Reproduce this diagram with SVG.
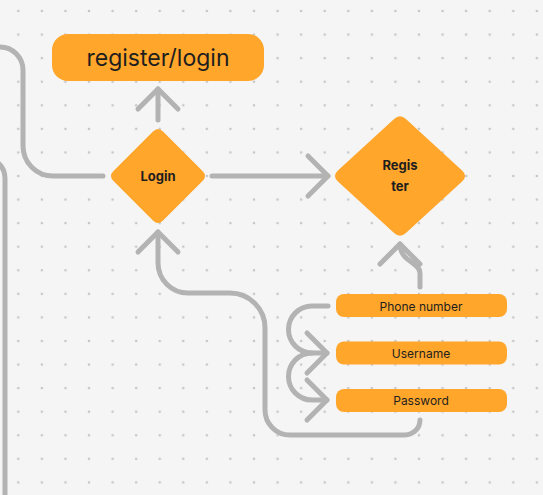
<svg xmlns="http://www.w3.org/2000/svg" width="543" height="495" viewBox="0 0 543 495">
  <defs>
    <pattern id="dots" patternUnits="userSpaceOnUse" x="6.515" y="-0.785" width="23.57" height="23.57">
      <circle cx="11.785" cy="11.785" r="1.3" fill="#c6c6c6"/>
    </pattern>
    <marker id="chev" markerUnits="userSpaceOnUse" markerWidth="30" markerHeight="50" refX="25" refY="25" orient="auto" overflow="visible">
      <path d="M 5 5 L 25 25 L 5 45" fill="none" stroke="#b3b3b3" stroke-width="5" stroke-linecap="round" stroke-linejoin="round"/>
    </marker>
    <style>
      .bg { fill: #f5f5f5; }
      .node { fill: #ffa62b; }
      .edge { fill: none; stroke: #b3b3b3; stroke-width: 5; stroke-linecap: round; stroke-linejoin: round; }
      .arrow { marker-end: url(#chev); }
      .t { font-family: Inter, "Noto Sans", "Liberation Sans", sans-serif; fill: #1e1e1e; text-anchor: middle; }
      .big { font-size: 23px; }
      .bold { font-size: 13px; font-weight: 700; }
      .small { font-size: 12px; }
    </style>
  </defs>
  <rect class="bg" width="543" height="495"/>
  <rect width="543" height="495" fill="url(#dots)"/>

  <g id="connectors">
    <path class="edge" d="M -3 47 H 0 A 23 23 0 0 1 23 70 V 146 A 30 30 0 0 0 53 176 H 103"/>
    <path class="edge" d="M -15 158 A 20 20 0 0 1 5 178 V 500"/>
    <path class="edge arrow" d="M 158 120 V 89"/>
    <path class="edge arrow" d="M 212 176 H 328"/>
    <path class="edge arrow" d="M 420 420 A 15 15 0 0 1 405 435 H 290 A 25 25 0 0 1 265 410 V 328 A 35 35 0 0 0 230 293 H 188 A 30 30 0 0 1 158 263 V 232"/>
    <path class="edge arrow" d="M 420 287 V 273 C 420 262 400 262 400 244"/>
    <path class="edge arrow" d="M 328 306 H 312 A 23.5 23.5 0 0 0 312 353 H 327"/>
    <path class="edge arrow" d="M 312 353 A 23.5 23.5 0 0 0 312 400 H 327"/>
  </g>

  <g id="register-login">
    <rect class="node" x="52" y="34" width="212" height="47" rx="16"/>
    <text class="t big" x="158" y="65.5">register/login</text>
  </g>

  <g id="login">
    <path class="node" d="M 153 131.5 Q 158 126.5 163 131.5 L 202.5 171 Q 207.5 176 202.5 181 L 163 220.5 Q 158 225.5 153 220.5 L 113.5 181 Q 108.5 176 113.5 171 Z"/>
    <text class="t bold" x="158" y="180.5">Login</text>
  </g>

  <g id="register">
    <path class="node" d="M 394.1 118.9 Q 400 113.5 405.9 118.9 L 462.1 170.6 Q 468 176 462.1 181.4 L 405.9 233.1 Q 400 238.5 394.1 233.1 L 337.9 181.4 Q 332 176 337.9 170.6 Z"/>
    <text class="t bold" x="400" y="170">Regis</text>
    <text class="t bold" x="400" y="190.5">ter</text>
  </g>

  <g id="phone-number">
    <rect class="node" x="336" y="294" width="171" height="23" rx="8"/>
    <text class="t small" x="421" y="310.5">Phone number</text>
  </g>

  <g id="username">
    <rect class="node" x="336" y="341.5" width="171" height="23" rx="8"/>
    <text class="t small" x="421" y="357.7">Username</text>
  </g>

  <g id="password">
    <rect class="node" x="336" y="389" width="171" height="23" rx="8"/>
    <text class="t small" x="421" y="405">Password</text>
  </g>
</svg>
